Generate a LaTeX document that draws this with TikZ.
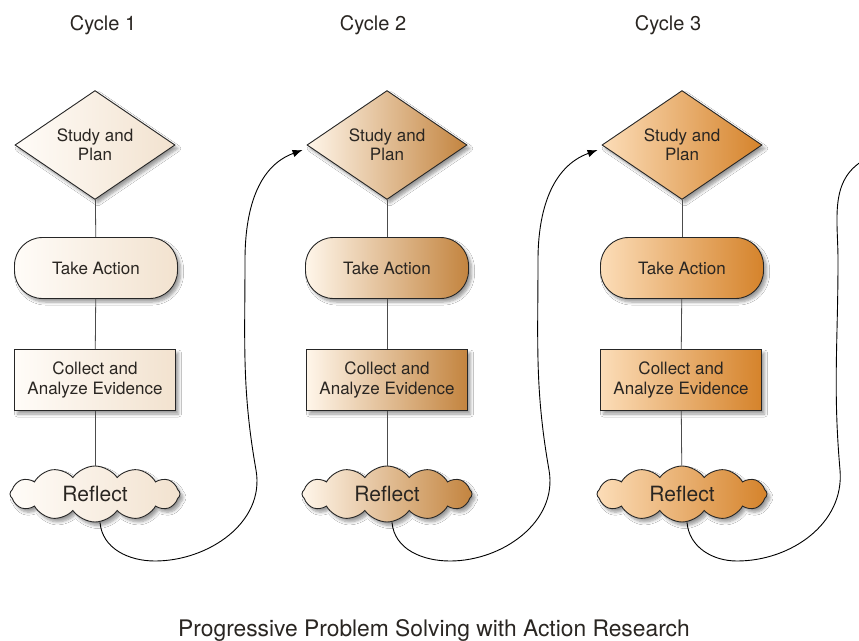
\documentclass[tikz,border=0pt]{standalone}
\usepackage{fontspec}
\setmainfont{TeX Gyre Heros}
\usetikzlibrary{shapes.geometric,shapes.symbols,shadows.blur,arrows.meta}
\definecolor{cAL}{HTML}{FFFCF8}
\definecolor{cAR}{HTML}{F2E2CF}
\definecolor{cBL}{HTML}{FFF6EA}
\definecolor{cBR}{HTML}{C3843F}
\definecolor{cCL}{HTML}{FCDDB8}
\definecolor{cCR}{HTML}{D5832B}
\definecolor{txt}{HTML}{2A2622}
\begin{document}
\begin{tikzpicture}[x=1pt,y=1pt,
  base/.style={draw=black!85, line width=0.9pt, text=txt, align=center,
    font=\fontsize{17}{19.5}\selectfont,
    blur shadow={shadow xshift=3pt, shadow yshift=-3.5pt, shadow blur steps=6,
      shadow blur radius=3pt, shadow opacity=40}},
  dia/.style={base, diamond, minimum width=160, minimum height=104, inner sep=0pt},
  act/.style={base, rectangle, rounded corners=28pt, minimum width=163, minimum height=61},
  coll/.style={base, rectangle, minimum width=161, minimum height=61, inner sep=2pt},
  refl/.style={base, cloud, cloud puffs=12, cloud puff arc=110, cloud ignores aspect,
    minimum width=170, minimum height=56, inner sep=0pt, font=\fontsize{21}{24}\selectfont},
  shA/.style={left color=cAL, right color=cAR},
  shB/.style={left color=cBL, right color=cBR},
  shC/.style={left color=cCL, right color=cCR},
  title/.style={text=txt, font=\fontsize{20}{23}\selectfont, anchor=base},
  conn/.style={draw=black!70, line width=0.8pt},
  loopline/.style={draw=black, line width=0.9pt},
  looparrow/.style={loopline, -{Latex[length=10pt,width=7.5pt]}}
]
\useasboundingbox (0,0) rectangle (859,-640);
\fill[white] (0,0) rectangle (859,-640);

% titles
\node[title] (t1) at (103,-30) {Cycle 1};
\node[title] (t2) at (373,-30) {Cycle 2};
\node[title] (t3) at (668,-30) {Cycle 3};
\node[title, font=\fontsize{22.8}{25}\selectfont] (cap) at (434,-636) {Progressive Problem Solving with Action Research};

% cycle 1
\node[dia, shA]  (d1) at (95,-145) {Study and\\Plan};
\node[act, shA]  (a1) at (96,-268) {Take Action};
\node[coll, shA] (e1) at (95,-380) {Collect and\\Analyze Evidence};
\node[refl, shA] (r1) at (95,-494) {Reflect};

% cycle 2
\node[dia, shB]  (d2) at (387,-145) {Study and\\Plan};
\node[act, shB]  (a2) at (387,-268) {Take Action};
\node[coll, shB] (e2) at (387,-380) {Collect and\\Analyze Evidence};
\node[refl, shB] (r2) at (387,-494) {Reflect};

% cycle 3
\node[dia, shC]  (d3) at (682,-145) {Study and\\Plan};
\node[act, shC]  (a3) at (682,-268) {Take Action};
\node[coll, shC] (e3) at (681,-380) {Collect and\\Analyze Evidence};
\node[refl, shC] (r3) at (682,-494) {Reflect};

\foreach \i in {1,2,3}{
  \draw[conn] (d\i) -- (a\i);
  \draw[conn] (a\i) -- (e\i);
  \draw[conn] (e\i) -- (r\i);
}

% loops
\coordinate (b1) at (155,-561); \coordinate (u1) at (256,-470); \coordinate (v1) at (245,-260);
\coordinate (b2) at (450,-561); \coordinate (u2) at (549,-470); \coordinate (v2) at (538,-260);
\coordinate (b3) at (737,-561); \coordinate (u3) at (840,-470); \coordinate (v3) at (838,-260);
\coordinate (x3) at (864,-160);

\draw[looparrow] ([xshift=5pt]r1.south) to[out=-85,in=180] (b1) to[out=0,in=-80] (u1)
  to[out=100,in=-90] (v1) to[out=90,in=200] ([shift={(-4pt,-5pt)}]d2.west);
\draw[looparrow] ([xshift=5pt]r2.south) to[out=-85,in=180] (b2) to[out=0,in=-80] (u2)
  to[out=100,in=-90] (v2) to[out=90,in=200] ([shift={(-4pt,-5pt)}]d3.west);
\draw[loopline] ([xshift=5pt]r3.south) to[out=-85,in=180] (b3) to[out=0,in=-85] (u3)
  to[out=95,in=-90] (v3) to[out=90,in=210] (x3);
\end{tikzpicture}
\end{document}
